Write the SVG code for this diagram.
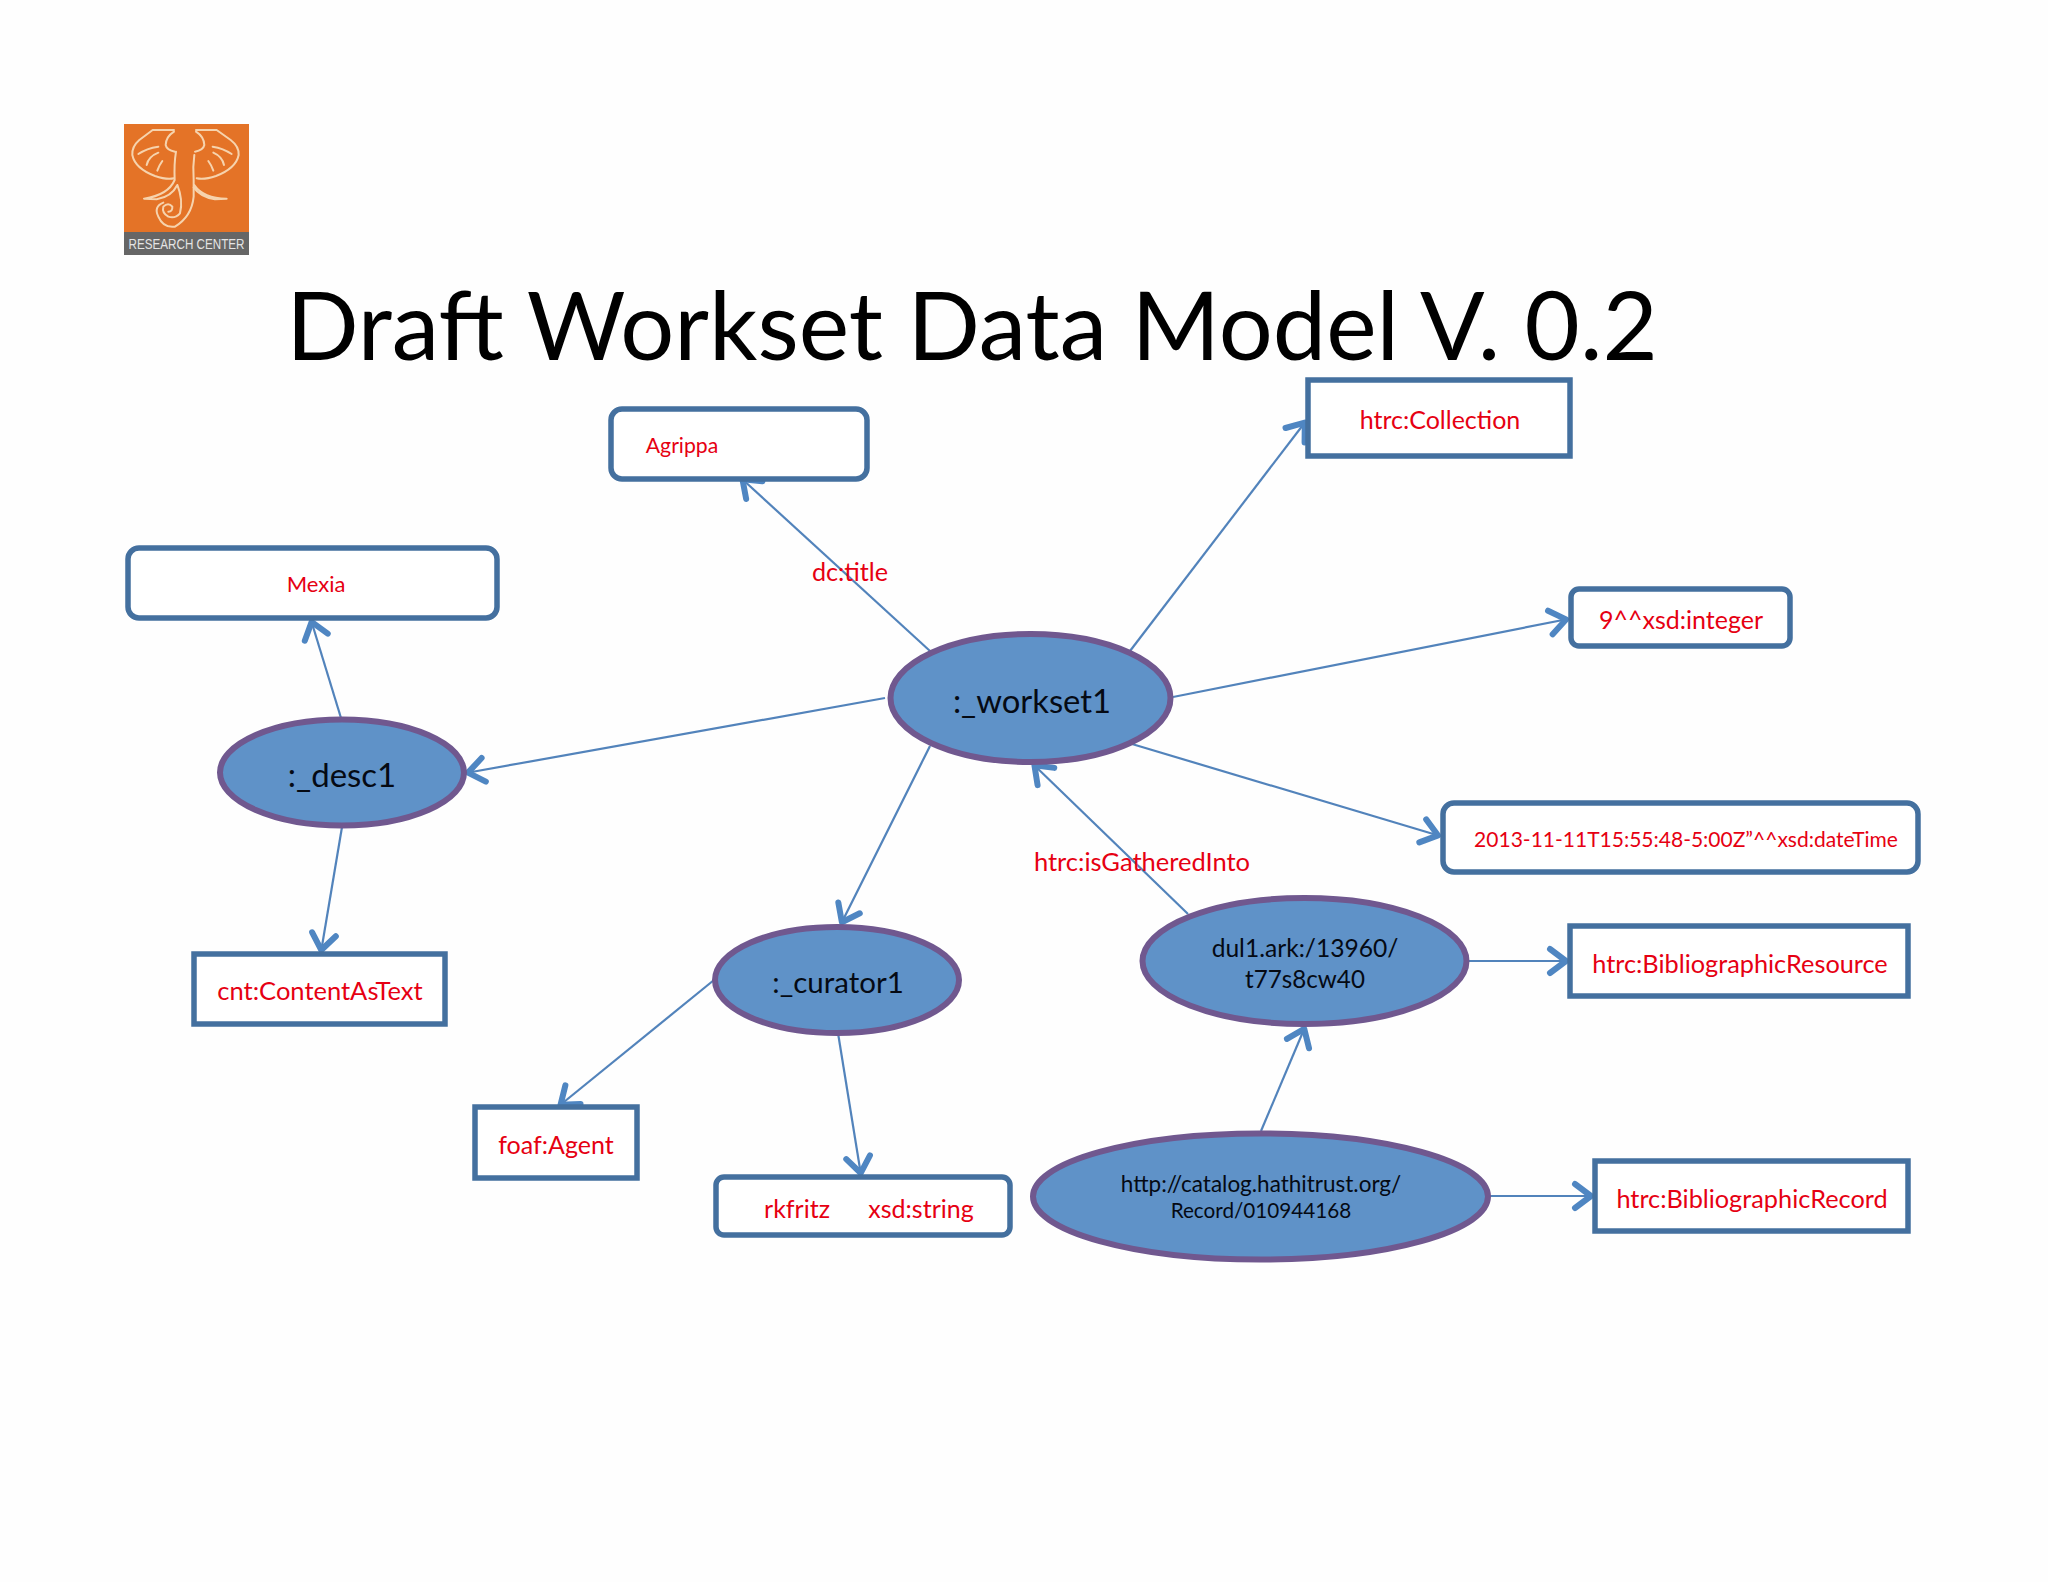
<svg xmlns="http://www.w3.org/2000/svg" width="2048" height="1582" viewBox="0 0 2048 1582">
<defs>
<marker id="arr" markerUnits="userSpaceOnUse" markerWidth="30" markerHeight="30" refX="24" refY="15" orient="auto" overflow="visible">
<path d="M6 3 L22 15 L6 27" fill="none" stroke="#4f86c2" stroke-width="6" stroke-linecap="round" stroke-linejoin="round"/>
</marker>
</defs>
<style>
text{font-family:"Lato","Liberation Sans",sans-serif;text-anchor:middle}
.e{fill:#5f92c8;stroke:#70588f;stroke-width:6}
.b{fill:#fff;stroke:#44709f;stroke-width:5.500}
.r{fill:#e60012}
.k{fill:#050a14}
.c line{stroke:#5283bb;stroke-width:2.200;marker-end:url(#arr)}
.l path{fill:none;stroke:#f6d3ad;stroke-width:6;stroke-linecap:round;stroke-linejoin:round}
</style>
<rect width="2048" height="1582" fill="#fefefe"/>
<g id="logo">
<rect x="124" y="124" width="125" height="108" fill="#e47327"/>
<rect x="124" y="232" width="125" height="23" fill="#666"/>
<g class="l" transform="translate(100 100) scale(.3333)">
<path d="M222 90H158L118 120Q95 140 97 165Q105 205 165 228Q200 240 222 235"/>
<path d="M222 95Q198 110 197 135Q200 150 225 155"/>
<path d="M115 162Q140 145 175 140M140 195Q145 170 175 158M172 212Q178 195 187 183"/>
<path d="M228 155Q222 190 224 240Q205 285 132 296L170 298Q215 290 232 255Q250 300 240 340Q225 357 205 350Q185 338 190 320Q205 305 217 320Q218 335 205 335"/>
<path d="M283 165Q278 200 281 240V290Q275 350 225 380Q190 385 175 350Q160 320 190 308"/>
<path d="M283 255Q310 295 380 296L345 298Q300 290 281 262"/>
<path d="M288 90H350L392 120Q418 140 416 165Q408 205 348 228Q313 240 290 235"/>
<path d="M288 95Q312 110 313 135Q310 150 285 155"/>
<path d="M395 162Q370 145 338 140M372 195Q367 170 340 158M340 212Q334 195 325 183"/>
</g>
<text x="186.500" y="249" font-size="15" fill="#e4e4e4" style="font-family:'Liberation Sans','DejaVu Sans',sans-serif" textLength="116" lengthAdjust="spacingAndGlyphs">RESEARCH CENTER</text>
</g>
<text id="title" x="972" y="360" font-size="95.400" fill="#000">Draft Workset Data Model V. 0.2</text>
<g id="connectors" class="c">
<line x1="930" y1="651" x2="741" y2="478"/>
<line x1="1130" y1="651" x2="1306" y2="421"/>
<line x1="1173" y1="697" x2="1568" y2="619"/>
<line x1="1132" y1="744" x2="1440" y2="836"/>
<line x1="885" y1="698" x2="466" y2="773"/>
<line x1="930" y1="746" x2="841" y2="924"/>
<line x1="1188" y1="914" x2="1033" y2="764"/>
<line x1="341" y1="718" x2="311" y2="620"/>
<line x1="342" y1="827" x2="321" y2="952"/>
<line x1="714" y1="980" x2="559" y2="1106"/>
<line x1="838" y1="1033" x2="861" y2="1175"/>
<line x1="1468" y1="961" x2="1568" y2="961"/>
<line x1="1261" y1="1131" x2="1305" y2="1027"/>
<line x1="1489" y1="1196" x2="1593" y2="1196"/>
</g>
<g id="workset1"><ellipse class="e" cx="1030.500" cy="698" rx="140" ry="64"/><text x="1032" y="713" font-size="32.800" class="k">:_workset1</text></g>
<g id="desc1"><ellipse class="e" cx="342" cy="772.500" rx="122" ry="53"/><text x="342" y="787" font-size="33" class="k">:_desc1</text></g>
<g id="curator1"><ellipse class="e" cx="837" cy="980" rx="122" ry="53"/><text x="838" y="993" font-size="29.500" class="k">:_curator1</text></g>
<g id="dul1"><ellipse class="e" cx="1304.500" cy="961" rx="162" ry="63"/><text x="1305" y="957" font-size="24.600" class="k">dul1.ark:/13960/</text><text x="1305" y="988" font-size="24.200" class="k">t77s8cw40</text></g>
<g id="record"><ellipse class="e" cx="1260.500" cy="1196.500" rx="227.500" ry="63"/><text x="1261" y="1192" font-size="22.500" class="k">http://catalog.hathitrust.org/</text><text x="1261" y="1218" font-size="20.700" class="k">Record/010944168</text></g>
<g id="agrippa"><rect class="b" x="611" y="409" width="256" height="70" rx="11"/><text x="682" y="453" font-size="21.200" class="r">Agrippa</text></g>
<g id="mexia"><rect class="b" x="128" y="548" width="369" height="70" rx="11"/><text x="316" y="592" font-size="22" class="r">Mexia</text></g>
<g id="collection"><rect class="b" x="1308" y="380" width="262" height="76"/><text x="1440" y="429" font-size="25" class="r">htrc:Collection</text></g>
<g id="integer"><rect class="b" x="1571" y="589" width="219" height="57" rx="8"/><text x="1681" y="629" font-size="25" class="r">9^^xsd:integer</text></g>
<g id="datetime"><rect class="b" x="1443" y="803" width="475" height="69" rx="11"/><text x="1686" y="847" font-size="21" class="r">2013-11-11T15:55:48-5:00Z”^^xsd:dateTime</text></g>
<g id="resource"><rect class="b" x="1570" y="926" width="338" height="70"/><text x="1740" y="973" font-size="25.300" class="r">htrc:BibliographicResource</text></g>
<g id="biblio"><rect class="b" x="1595" y="1161" width="313" height="70"/><text x="1752" y="1208" font-size="25.300" class="r">htrc:BibliographicRecord</text></g>
<g id="content"><rect class="b" x="194" y="954" width="251" height="70"/><text x="320" y="1000" font-size="25.500" class="r">cnt:ContentAsText</text></g>
<g id="agent"><rect class="b" x="475" y="1107" width="162" height="71"/><text x="556" y="1154" font-size="25" class="r">foaf:Agent</text></g>
<g id="rkfritz"><rect class="b" x="716" y="1177" width="294" height="58" rx="8"/><text x="797" y="1218" font-size="25" class="r">rkfritz</text><text x="921" y="1218" font-size="25" class="r">xsd:string</text></g>
<text x="850" y="581" font-size="25.200" class="r">dc:title</text>
<text x="1142" y="871" font-size="25.500" class="r">htrc:isGatheredInto</text>
</svg>
